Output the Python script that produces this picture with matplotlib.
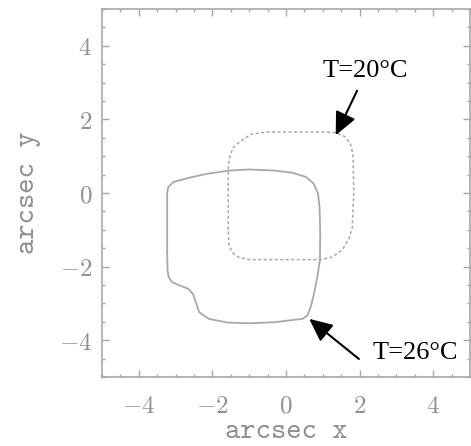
import matplotlib.pyplot as plt
from matplotlib.ticker import MultipleLocator, FuncFormatter

plt.rcParams['mathtext.fontset'] = 'cm'

gris = '#a8a8a8'
gris_txt = '#909090'

# contorno a T=26 C (linea continua)
x_26 = [-3.23, -3.23, -3.20, -3.06, -2.61, -2.16, -1.54, -1.0, -0.3, 0.17, 0.53,
        0.75, 0.87, 0.91, 0.93, 0.92, 0.85, 0.76, 0.67, 0.58, 0.45, 0.1, -0.3,
        -1.0, -1.6, -2.1, -2.36, -2.45, -2.53, -2.66, -2.9, -3.1, -3.19, -3.22, -3.23]
y_26 = [-1.6, 0.0, 0.16, 0.30, 0.42, 0.52, 0.61, 0.64, 0.61, 0.55, 0.44,
        0.26, -0.02, -0.38, -1.1, -1.83, -2.28, -2.74, -3.10, -3.33, -3.42, -3.46, -3.51,
        -3.54, -3.52, -3.42, -3.24, -2.97, -2.74, -2.60, -2.51, -2.42, -2.28, -2.1, -1.6]

# contorno a T=20 C (linea discontinua)
x_20 = [-1.57, -1.57, -1.53, -1.44, -1.26, -0.95, -0.5, 1.0, 1.35, 1.60, 1.75,
        1.82, 1.84, 1.80, 1.71, 1.53, 1.26, 0.95, -1.0, -1.28, -1.46, -1.55, -1.57]
y_20 = [-1.0, 0.7, 0.98, 1.23, 1.39, 1.60, 1.66, 1.66, 1.64, 1.53, 1.33,
        1.03, 0.0, -0.93, -1.24, -1.54, -1.74, -1.81, -1.81, -1.75, -1.62, -1.40, -1.0]

etiquetas = ['T=20°C', 'T=26°C']
pos_texto = [(2.16, 3.32), (3.5, -4.34)]
flecha_inicio = [(1.93, 2.78), (1.98, -4.51)]
flecha_punta = [(1.35, 1.57), (0.63, -3.42)]

fig = plt.figure(figsize=(4.71, 4.46), dpi=100)
ax = fig.add_axes([0.2166, 0.1547, 0.7814, 0.8251])

ax.plot(x_26, y_26, color=gris, lw=1.3, solid_joinstyle='round')
ax.plot(x_20, y_20, color=gris, lw=1.1, linestyle=(0, (2.0, 1.6)))

for txt, pt, ini, fin in zip(etiquetas, pos_texto, flecha_inicio, flecha_punta):
    ax.annotate('', xy=fin, xytext=ini,
                arrowprops=dict(arrowstyle='-|>,head_length=14,head_width=6.5',
                                mutation_scale=1, color='black', lw=1.5,
                                shrinkA=0, shrinkB=0))
    ax.text(pt[0], pt[1], txt, ha='center', va='center', fontsize=19,
            family='Liberation Serif', color='black', clip_on=False)

ax.set_xlim(-5, 5)
ax.set_ylim(-5, 5)
ax.xaxis.set_major_locator(MultipleLocator(2))
ax.yaxis.set_major_locator(MultipleLocator(2))
ax.xaxis.set_minor_locator(MultipleLocator(0.5))
ax.yaxis.set_minor_locator(MultipleLocator(0.5))
fmt = FuncFormatter(lambda v, p: '$%d$' % round(v))
ax.xaxis.set_major_formatter(fmt)
ax.yaxis.set_major_formatter(fmt)
ax.tick_params(which='both', direction='in', top=True, right=True, colors=gris,
               labelcolor=gris_txt, labelsize=18)
ax.tick_params(which='major', length=5, width=1)
ax.tick_params(which='minor', length=2.5, width=1)
ax.tick_params(axis='x', pad=12)
ax.tick_params(axis='y', pad=7)
for s in ax.spines.values():
    s.set_color(gris)
    s.set_linewidth(1.2)

ax.set_xlabel('arcsec x', family='cmtt10', fontsize=21, color=gris_txt, labelpad=2)
ax.set_ylabel('arcsec y', family='cmtt10', fontsize=21, color=gris_txt, labelpad=13)

fig.savefig('out.png', dpi=100)
